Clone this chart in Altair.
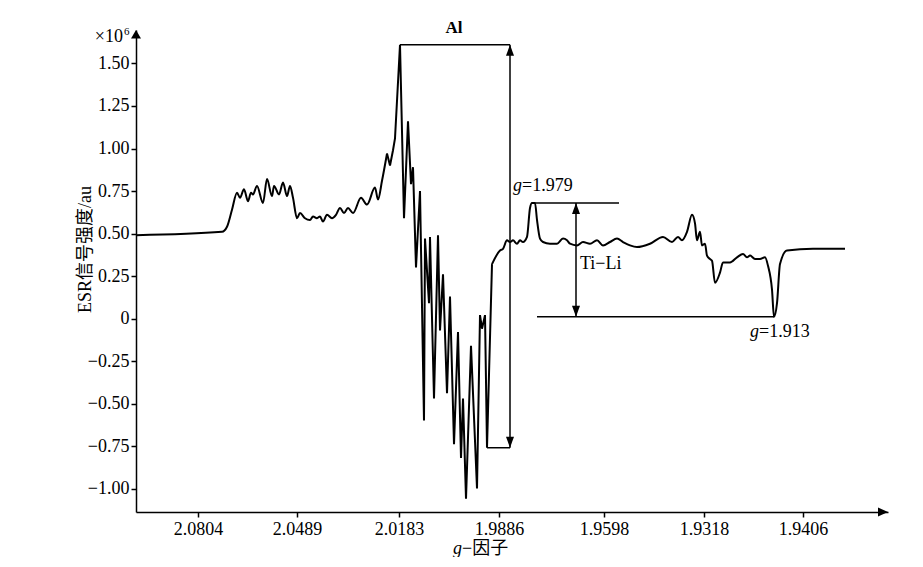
import altair as alt
import pandas as pd

# ---------------- data (x = field position, arbitrary units; y = intensity x10^6) -------------
field = [0, 86, 91, 96, 101, 104, 108, 112, 115, 117, 121, 127, 131, 136, 138, 143, 147, 151, 154, 157,
         161, 164, 169, 174, 177, 181, 184, 187, 191, 196, 200, 204, 208, 212, 217, 225, 231, 239, 242, 246,
         251, 254, 257, 259, 264, 268, 272, 275, 277, 280, 284, 288, 289, 293, 294, 298, 302, 304, 307, 311,
         314, 318, 322, 325, 327, 330, 335, 341, 344, 346, 349, 351, 356, 364, 367, 371, 374, 377, 381, 384,
         387, 391, 394, 396, 399, 401, 404, 407, 414, 421, 427, 431, 434, 441, 447, 454, 461, 467, 474, 481,
         487, 494, 501, 514, 527, 536, 542, 546, 551, 556, 559, 561, 564, 566, 569, 571, 574, 576, 579, 584,
         587, 594, 601, 607, 611, 614, 619, 624, 629, 632, 636, 638, 641, 644, 651, 677, 709]
intensity = [0.49, 0.51, 0.54, 0.64, 0.74, 0.71, 0.76, 0.69, 0.74, 0.73, 0.78, 0.68, 0.82, 0.72, 0.78, 0.73, 0.80, 0.72, 0.78, 0.71,
             0.59, 0.62, 0.59, 0.58, 0.60, 0.59, 0.60, 0.57, 0.61, 0.59, 0.61, 0.65, 0.62, 0.65, 0.62, 0.71, 0.67, 0.77, 0.70, 0.81,
             0.97, 0.90, 0.99, 1.06, 1.61, 0.59, 1.16, 0.79, 0.89, 0.30, 0.75, -0.60, 0.47, 0.09, 0.48, -0.47, 0.49, -0.07, 0.26, -0.44,
             0.13, -0.74, -0.08, -0.82, -0.47, -1.06, -0.16, -1.00, 0.02, -0.06, 0.02, -0.76, 0.32, 0.40, 0.41, 0.46, 0.45, 0.46, 0.44, 0.46,
             0.45, 0.48, 0.65, 0.68, 0.68, 0.58, 0.47, 0.45, 0.44, 0.44, 0.47, 0.46, 0.44, 0.43, 0.45, 0.44, 0.46, 0.43, 0.45, 0.47,
             0.45, 0.43, 0.42, 0.44, 0.48, 0.45, 0.48, 0.46, 0.51, 0.61, 0.56, 0.46, 0.51, 0.43, 0.44, 0.37, 0.35, 0.34, 0.21, 0.27,
             0.33, 0.33, 0.36, 0.38, 0.36, 0.37, 0.35, 0.35, 0.36, 0.31, 0.17, 0.01, 0.09, 0.32, 0.40, 0.41, 0.41]

# index boundaries of the sharp-spike region (drawn with straight segments)
spike_start, spike_end = 40, 72

tick_field = [62, 161, 263, 363, 468, 568, 667]
tick_label = ["2.0804", "2.0489", "2.0183", "1.9886", "1.9598", "1.9318", "1.9406"]
y_ticks = [-1.0, -0.75, -0.5, -0.25, 0, 0.25, 0.5, 0.75, 1.0, 1.25, 1.5]
x_domain = [0, 752]
y_domain = [-1.138, 1.697]

# annotation line segments (Al bracket, Ti-Li bracket)
seg_x1 = [264, 374, 351, 396, 440, 401]
seg_x2 = [374, 374, 374, 483, 440, 638]
seg_y1 = [1.61, 1.61, -0.76, 0.68, 0.68, 0.01]
seg_y2 = [1.61, -0.76, -0.76, 0.68, 0.01, 0.01]

# arrow heads
UP = "M0,0L-0.8,2.2L0.8,2.2Z"
DOWN = "M0,0L-0.8,-2.2L0.8,-2.2Z"
AX_UP = "M0,0L-1,1.7L1,1.7Z"
AX_RIGHT = "M0,0L-2,-0.9L-2,0.9Z"
head_x = [374, 374, 440, 440, 0, 752]
head_y = [1.61, -0.76, 0.68, 0.01, 1.697, -1.138]
head_shape = [UP, DOWN, UP, DOWN, AX_UP, AX_RIGHT]

# texts
txt_norm_x = [386, 623, 444, 326]
txt_norm_y = [0.78, -0.08, 0.32, -1.356]
txt_norm_t = ["=1.979", "=1.913", "Ti\u2212Li", "\u2212因子"]
txt_ital_x = [377, 614, 317]
txt_ital_y = [0.78, -0.08, -1.356]
txt_ital_t = ["g", "g", "g"]

FONT = "Liberation Serif, Noto Sans CJK SC"

curve_df = pd.DataFrame({"field": field, "intensity": intensity})
smooth_a = curve_df.iloc[:spike_start + 1]
spiky = curve_df.iloc[spike_start:spike_end + 1]
smooth_c = curve_df.iloc[spike_end:]

seg_df = pd.DataFrame({"x1": seg_x1, "x2": seg_x2, "y1": seg_y1, "y2": seg_y2})
head_df = pd.DataFrame({"x": head_x, "y": head_y, "shape": head_shape})
norm_df = pd.DataFrame({"x": txt_norm_x, "y": txt_norm_y, "t": txt_norm_t})
ital_df = pd.DataFrame({"x": txt_ital_x, "y": txt_ital_y, "t": txt_ital_t})
al_df = pd.DataFrame({"x": [318], "y": [1.709], "t": ["Al"]})
exp_df = pd.DataFrame({"x": [-13], "y": [1.655], "t": ["\u00d710"]})
sup_df = pd.DataFrame({"x": [-12], "y": [1.685], "t": ["6"]})

label_expr = "[" + ",".join("'%s'" % s for s in tick_label) + "][indexof([" + \
    ",".join(str(v) for v in tick_field) + "], datum.value)]"

xs = alt.Scale(domain=x_domain, nice=False, zero=False)
ys = alt.Scale(domain=y_domain, nice=False, zero=False)

x_enc = alt.X("field:Q", scale=xs,
              axis=alt.Axis(values=tick_field, labelExpr=label_expr, title=None, grid=False,
                            tickSize=5, labelPadding=3))
y_enc = alt.Y("intensity:Q", scale=ys,
              axis=alt.Axis(values=y_ticks, grid=False, tickSize=5, labelPadding=2,
                            labelExpr="datum.value == 0 ? '0' : format(datum.value, '.2f')",
                            title="ESR信号强度/au", titleX=-51, titleY=219, titleAngle=270,
                            titleAlign="center", titleBaseline="middle"))

curve_a = alt.Chart(smooth_a).mark_line(color="black", strokeWidth=2, interpolate="monotone").encode(
    x=x_enc, y=y_enc)
curve_b = alt.Chart(spiky).mark_line(color="black", strokeWidth=2, strokeJoin="miter").encode(
    x="field:Q", y="intensity:Q")
curve_c = alt.Chart(smooth_c).mark_line(color="black", strokeWidth=2, interpolate="monotone").encode(
    x="field:Q", y="intensity:Q")

segs = alt.Chart(seg_df).mark_rule(color="black", strokeWidth=1.5).encode(
    x="x1:Q", x2="x2:Q", y="y1:Q", y2="y2:Q")

heads = alt.Chart(head_df).mark_point(filled=True, color="black", size=100, opacity=1,
                                      strokeWidth=0).encode(
    x="x:Q", y="y:Q", shape=alt.Shape("shape:N", scale=None))

tnorm = alt.Chart(norm_df).mark_text(font=FONT, fontSize=18, align="left", baseline="middle",
                                     color="black").encode(x="x:Q", y="y:Q", text="t:N")
tital = alt.Chart(ital_df).mark_text(font=FONT, fontSize=18, fontStyle="italic", align="left",
                                     baseline="middle", color="black").encode(x="x:Q", y="y:Q", text="t:N")
tal = alt.Chart(al_df).mark_text(font=FONT, fontSize=17, fontWeight="bold", align="center",
                                 baseline="middle", color="black").encode(x="x:Q", y="y:Q", text="t:N")
texp = alt.Chart(exp_df).mark_text(font=FONT, fontSize=18, align="right", baseline="middle",
                                   color="black").encode(x="x:Q", y="y:Q", text="t:N")
tsup = alt.Chart(sup_df).mark_text(font=FONT, fontSize=11, align="left", baseline="middle",
                                   color="black").encode(x="x:Q", y="y:Q", text="t:N")

chart = alt.layer(curve_a, curve_b, curve_c, segs, heads, tnorm, tital, tal, texp, tsup).properties(
    width=752, height=482,
    autosize=alt.AutoSizeParams(type="none"),
    padding={"left": 128, "top": 22, "right": 20, "bottom": 45},
    background="white",
).configure_view(stroke=None).configure_axis(
    labelFont="Liberation Serif", labelFontSize=18, labelColor="black",
    domainColor="black", domainWidth=1.5, tickColor="black", tickWidth=1.5,
    titleFont=FONT, titleFontSize=18, titleFontWeight="normal", titleColor="black",
)

chart.save("out.html", embed_options={"renderer": "svg", "actions": False})
